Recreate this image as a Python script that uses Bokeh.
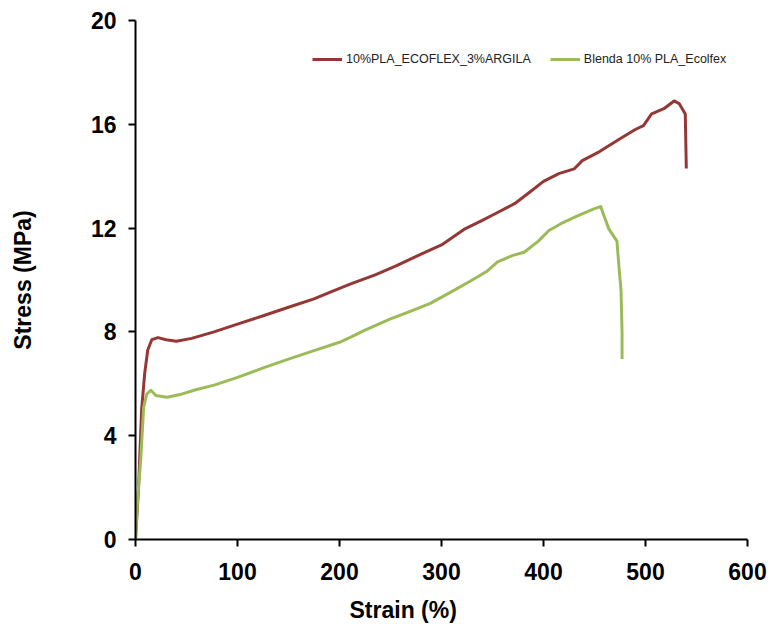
import math
from bokeh.plotting import figure
from bokeh.models import FixedTicker, Range1d, Title, Legend, LegendItem
from bokeh.embed import file_html
from bokeh.resources import INLINE

# ---- data ----
strain_argila = [0, 3, 6, 9, 12, 16, 22, 30, 40, 55, 77, 100, 126, 150, 175, 191, 211, 235, 256,
                 280, 300, 322, 340, 355, 372, 387, 400, 415, 430, 438, 455, 475, 490, 498, 506,
                 518, 528, 533, 539, 540]
stress_argila = [0, 2.0, 5.0, 6.4, 7.3, 7.7, 7.78, 7.7, 7.64, 7.75, 8.0, 8.3, 8.63, 8.95, 9.27, 9.53,
                 9.85, 10.2, 10.55, 11.0, 11.35, 11.95, 12.3, 12.6, 12.95, 13.4, 13.8, 14.1, 14.28,
                 14.6, 14.95, 15.44, 15.8, 15.95, 16.4, 16.6, 16.9, 16.8, 16.4, 14.3]

strain_blenda = [0, 2, 5, 8, 11, 15, 20, 31, 45, 60, 77, 100, 126, 150, 175, 200, 211, 224, 250,
                 270, 289, 310, 328, 345, 355, 370, 381, 395, 405, 417, 435, 450, 456, 461, 464,
                 472, 474, 476, 477, 477]
stress_blenda = [0, 1.5, 3.0, 5.1, 5.6, 5.75, 5.55, 5.48, 5.6, 5.78, 5.95, 6.25, 6.62, 6.95, 7.28,
                 7.6, 7.8, 8.05, 8.5, 8.8, 9.1, 9.55, 9.95, 10.35, 10.7, 10.95, 11.07, 11.5, 11.9,
                 12.17, 12.5, 12.75, 12.83, 12.29, 11.97, 11.5, 10.5, 9.6, 8.0, 6.96]

x_ticks = [0, 100, 200, 300, 400, 500, 600]
y_ticks = [0, 4, 8, 12, 16, 20]

name_argila = "10%PLA_ECOFLEX_3%ARGILA"
name_blenda = "Blenda 10% PLA_Ecolfex"
x_title = "Strain (%)"
y_title = "Stress (MPa)"

RED = "#953735"
GREEN = "#9BBB59"
FONT = "Liberation Sans"

p = figure(frame_width=612, frame_height=519, output_backend="svg", toolbar_location=None,
           x_range=Range1d(0, 600), y_range=Range1d(0, 20),
           min_border_left=135, min_border_right=24, min_border_top=20, min_border_bottom=94)
p.outline_line_color = None
p.grid.visible = False
p.background_fill_color = "white"
p.border_fill_color = "white"

r1 = p.line(strain_argila, stress_argila, line_color=RED, line_width=3, line_join="round")
r2 = p.line(strain_blenda, stress_blenda, line_color=GREEN, line_width=3, line_join="round")

for ax, ticks in ((p.xaxis[0], x_ticks), (p.yaxis[0], y_ticks)):
    ax.ticker = FixedTicker(ticks=ticks)
    ax.minor_tick_line_color = None
    ax.major_tick_in = 0
    ax.major_tick_out = 7
    ax.major_tick_line_width = 2
    ax.axis_line_width = 2
    ax.axis_line_color = "black"
    ax.major_tick_line_color = "black"
    ax.major_label_text_font = FONT
    ax.major_label_text_font_style = "bold"
    ax.major_label_text_font_size = "23px"
    ax.major_label_text_color = "black"
p.xaxis.major_label_standoff = 16
p.yaxis.major_label_standoff = 12

p.yaxis.axis_label = y_title
p.yaxis.axis_label_text_font = FONT
p.yaxis.axis_label_text_font_style = "bold"
p.yaxis.axis_label_text_font_size = "23px"
p.yaxis.axis_label_text_color = "black"
p.yaxis.axis_label_standoff = 52

xt = Title(text=x_title, align="left", offset=214, text_font=FONT, text_font_style="bold",
           text_font_size="23px", text_color="black", standoff=24)
p.add_layout(xt, "below")

legend = Legend(items=[LegendItem(label=name_argila, renderers=[r1]),
                       LegendItem(label=name_blenda, renderers=[r2])],
                orientation="horizontal", location=(177, 473),
                label_text_font=FONT, label_text_font_size="12.5px", label_text_color="#222222",
                glyph_width=30, glyph_height=14, label_height=14, label_standoff=4,
                spacing=19, padding=0, margin=0,
                border_line_color=None, background_fill_alpha=0)
p.add_layout(legend)

open("out.html", "w").write(file_html(p, INLINE))
